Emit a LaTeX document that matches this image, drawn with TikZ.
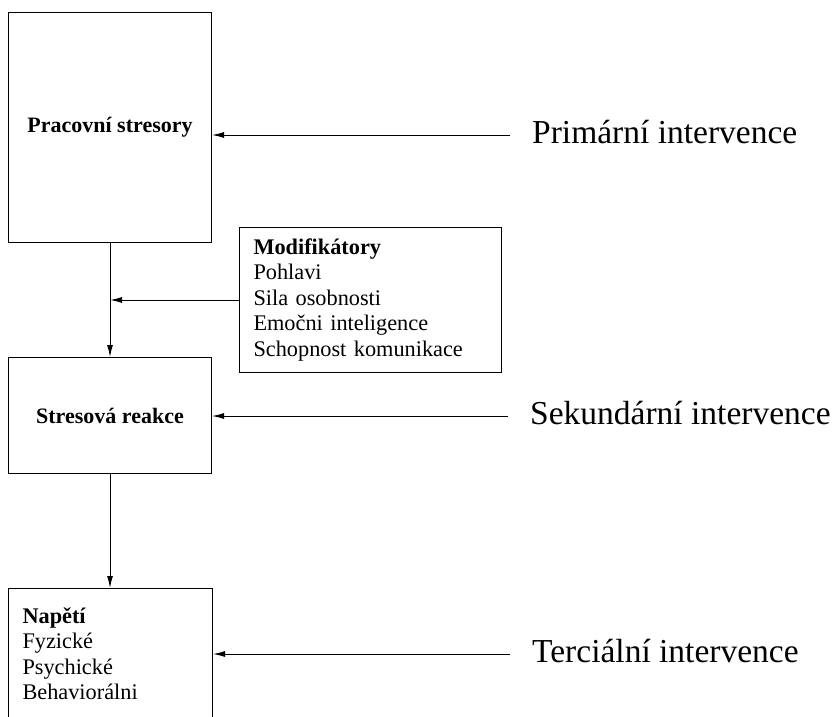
\documentclass[tikz,border=0pt]{standalone}
\usepackage{fontspec}
\setmainfont{Liberation Serif}
\usetikzlibrary{arrows.meta,positioning}
\tikzset{box/.style={draw, line width=1pt, anchor=north west, inner sep=0pt,
  font=\fontsize{22}{25.5}\selectfont\bfseries}}
\tikzset{listbox/.style={draw, line width=1pt, anchor=north west, align=left,
  inner xsep=14pt, inner ysep=0pt, font=\fontsize{22.3}{25.5}\selectfont}}
\tikzset{intv/.style={anchor=west, inner xsep=22pt, inner ysep=0pt,
  text height=16pt, text depth=0pt, font=\fontsize{33.5}{36}\selectfont}}
\tikzset{link/.style={line width=1pt, -{Latex[length=12pt,width=6pt]}}}

\begin{document}
\begin{tikzpicture}[x=1pt,y=-1pt]
\useasboundingbox (0,0) rectangle (835,716);
% boxes
\node[box, minimum width=203pt, minimum height=230pt] (work) at (8,12) {Pracovní stresory};
\node[box, minimum width=203pt, minimum height=116pt] (react) at (8,357) {Stresová reakce};
\node[listbox, text width=234pt, minimum height=145pt] (mod) at (239,227)
  {\textbf{Modifikátory}\\Pohlavi\\Sila osobnosti\\Emočni inteligence\\Schopnost komunikace};
\node[listbox, text width=176pt, minimum height=130pt] (strain) at (8,588)
  {\textbf{Napětí}\\Fyzické\\Psychické\\Behaviorálni};
% intervence
\node[intv] (prim) at (510,135) {Primární intervence};
\node[intv] (sek) at (508,416) {Sekundární intervence};
\node[intv] (ter) at (510,654) {Terciální intervence};
% arrows
\draw[link] (work.south) -- (work.south |- react.north);
\draw[link] (react.south) -- (react.south |- strain.north);
\draw[link] (mod.west) -- (mod.west -| work.south);
\draw[link] (prim.west) -- (prim.west -| work.east);
\draw[link] (sek.west) -- (sek.west -| react.east);
\draw[link] (ter.west) -- (ter.west -| strain.east);
\end{tikzpicture}
\end{document}
